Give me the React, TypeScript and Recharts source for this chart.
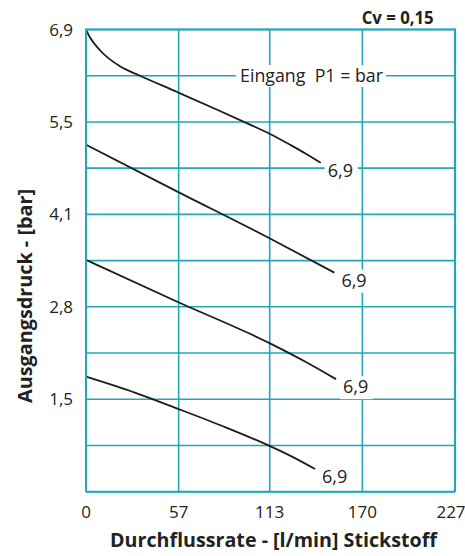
import React from "react";
import { LineChart, Line, XAxis, YAxis, CartesianGrid } from "recharts";

// Flow rate (l/min nitrogen) and outlet pressure (bar) for each curve
const curve1X = [0, 2.5, 8.6, 20.9, 33.2, 55.8, 80, 100.9, 113.2, 125.5, 135, 144.4];
const curve1Y = [6.9, 6.78, 6.59, 6.35, 6.21, 5.97, 5.71, 5.48, 5.34, 5.18, 5.05, 4.91];
const curve2X = [0, 56.2, 113.2, 152.8];
const curve2Y = [5.18, 4.48, 3.78, 3.27];
const curve3X = [0, 55.8, 113.2, 135, 153.8];
const curve3Y = [3.46, 2.84, 2.215, 1.94, 1.68];
const curve4X = [0, 30, 55.8, 85, 113.2, 127, 140.9];
const curve4Y = [1.717, 1.48, 1.245, 0.97, 0.68, 0.52, 0.339];
const curveLabels = ["6,9", "6,9", "6,9", "6,9"];

const xTicks = [0, 57, 113, 170, 227];
const yTicks = [0, 0.69, 1.38, 2.07, 2.76, 3.45, 4.14, 4.83, 5.52, 6.21, 6.9];
const yTickLabels = ["", "", "1,5", "", "2,8", "", "4,1", "", "5,5", "", "6,9"];

const TEAL = "#22a7b7";
const FONT = "'Open Sans', sans-serif";
const W = 465;
const H = 556;
const M = { top: 29.5, right: 10, bottom: 34.3, left: 0 };
const Y_AXIS_W = 86;
const X_AXIS_H = 30;

const toRows = (xs: number[], ys: number[]) => xs.map((x, i) => ({ x, y: ys[i] }));
const series = [
  toRows(curve1X, curve1Y),
  toRows(curve2X, curve2Y),
  toRows(curve3X, curve3Y),
  toRows(curve4X, curve4Y),
];

const makeEndLabel = (n: number, text: string) => (props: any) => {
  if (props.index !== n - 1) return null;
  const x = Number(props.x);
  const y = Number(props.y);
  return (
    <g>
      <rect x={x + 4} y={y - 3} width={33} height={23} fill="#fff" />
      <text x={x + 7} y={y + 14} fontSize={18} fill="#222" fontFamily={FONT}>
        {text}
      </text>
    </g>
  );
};

const XTick = (props: any) => {
  const { x, y, payload } = props;
  const last = payload.value === xTicks[xTicks.length - 1];
  return (
    <text
      x={Number(x) + (last ? -4 : 0)}
      y={Number(y) + 12}
      textAnchor="middle"
      fontSize={17}
      fill="#222"
      fontFamily={FONT}
    >
      {String(payload.value)}
    </text>
  );
};

export default function App() {
  const left = M.left + Y_AXIS_W;
  const top = M.top;
  const right = W - M.right;
  const bottom = H - M.bottom - X_AXIS_H;
  return (
    <div style={{ position: "fixed", left: 0, top: 0, width: W, height: H, background: "#fff" }}>
      <LineChart width={W} height={H} margin={M} style={{ fontFamily: FONT }}>
        <CartesianGrid stroke={TEAL} strokeWidth={1.6} />
        <XAxis
          type="number"
          dataKey="x"
          domain={[0, 227]}
          ticks={xTicks}
          interval={0}
          height={X_AXIS_H}
          tickSize={0}
          tickMargin={14}
          axisLine={{ stroke: TEAL, strokeWidth: 2 }}
          tick={<XTick />}
        />
        <YAxis
          type="number"
          domain={[0, 6.9]}
          ticks={yTicks}
          interval={0}
          width={Y_AXIS_W}
          tickSize={0}
          tickMargin={13}
          axisLine={{ stroke: TEAL, strokeWidth: 2 }}
          tick={{ fill: "#222", fontSize: 17 }}
          tickFormatter={(v: number) => {
            const i = yTicks.findIndex((t) => Math.abs(t - v) < 1e-6);
            return i >= 0 ? yTickLabels[i] : "";
          }}
        />
        {series.map((d, i) => (
          <Line
            key={i}
            data={d}
            dataKey="y"
            type="monotone"
            stroke="#1c1c1c"
            strokeWidth={1.8}
            dot={false}
            isAnimationActive={false}
            label={makeEndLabel(d.length, curveLabels[i])}
          />
        ))}
      </LineChart>
      <svg
        width={W}
        height={H}
        viewBox={`0 0 ${W} ${H}`}
        style={{ position: "absolute", left: 0, top: 0, pointerEvents: "none", overflow: "visible" }}
        fontFamily={FONT}
      >
        <line x1={left - 1} y1={top} x2={right + 1} y2={top} stroke={TEAL} strokeWidth={2.2} />
        <line x1={right} y1={top} x2={right} y2={bottom} stroke={TEAL} strokeWidth={2.2} />
        <text x={361.7} y={24} fontSize={17} fontWeight="bold" fill="#222" textLength={72} lengthAdjust="spacingAndGlyphs">
          Cv = 0,15
        </text>
        <rect x={236} y={65} width={150} height={22} fill="#fff" />
        <text x={240} y={81.7} fontSize={18} fill="#222" textLength={143} lengthAdjust="spacingAndGlyphs" xmlSpace="preserve">
          Eingang  P1 = bar
        </text>
        <text x={110} y={546.7} fontSize={20} fontWeight="bold" fill="#222" textLength={327} lengthAdjust="spacingAndGlyphs">
          Durchflussrate - [l/min] Stickstoff
        </text>
        <text
          x={0}
          y={0}
          fontSize={19}
          fontWeight="bold"
          fill="#222"
          textAnchor="middle"
          textLength={214}
          lengthAdjust="spacingAndGlyphs"
          transform="translate(31.5 296) rotate(-90)"
        >
          Ausgangsdruck - [bar]
        </text>
      </svg>
    </div>
  );
}
